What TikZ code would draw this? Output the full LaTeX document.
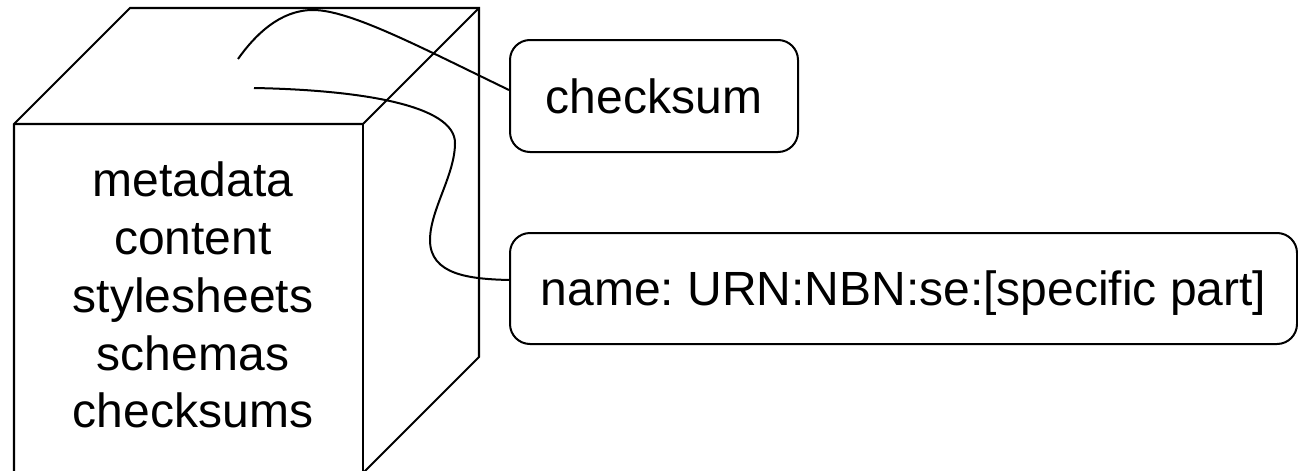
\documentclass[tikz,border=0pt]{standalone}
\usepackage{fontspec}
\setmainfont{Liberation Sans}
\frenchspacing
\tikzset{
  edge/.style={line width=2.1pt, line join=miter},
  link/.style={line width=2pt},
  tag/.style={draw, line width=2pt, rounded corners=20pt, minimum width=288pt,
    minimum height=112pt, inner sep=0pt, text depth=0pt,
    font=\fontsize{48}{58}\selectfont},
  listing/.style={align=center, anchor=north, inner sep=0pt,
    font=\fontsize{48}{57.75}\selectfont},
}
\begin{document}
\begin{tikzpicture}[x=1pt,y=-1pt]
\useasboundingbox (0,0) rectangle (1298,471);
\fill[white] (0,0) rectangle (1298,471);
\clip (0,0) rectangle (1298,471);
% cube
\draw[edge] (14,480) -- (14,124) -- (130,8) -- (479,8) -- (479,357) -- (363,473);
\draw[edge] (14,124) -- (363,124) -- (479,8);
\draw[edge] (363,124) -- (363,480);
% nodes
\node[listing] (list) at (193,162) {metadata\\content\\stylesheets\\schemas\\checksums};
\node[tag] (b1) at (654,96) {checksum};
\node[tag, minimum width=787pt, minimum height=111pt] (b2) at (903.5,288.5) {name: URN:NBN:se:[specific part]};
% connectors
\coordinate (s1) at (238,59);
\coordinate (s2) at (254,88);
\draw[link] (s1) .. controls (255,35) and (280,10) .. (313,10)
  .. controls (350,10) and (420,47) .. ([yshift=6pt]b1.west);
\draw[link] (s2) .. controls (360,90) and (455,105) .. (455,143)
  .. controls (455,175) and (430,210) .. (430,240)
  .. controls (430,275) and (470,279) .. ([yshift=8.5pt]b2.west);
\end{tikzpicture}
\end{document}
